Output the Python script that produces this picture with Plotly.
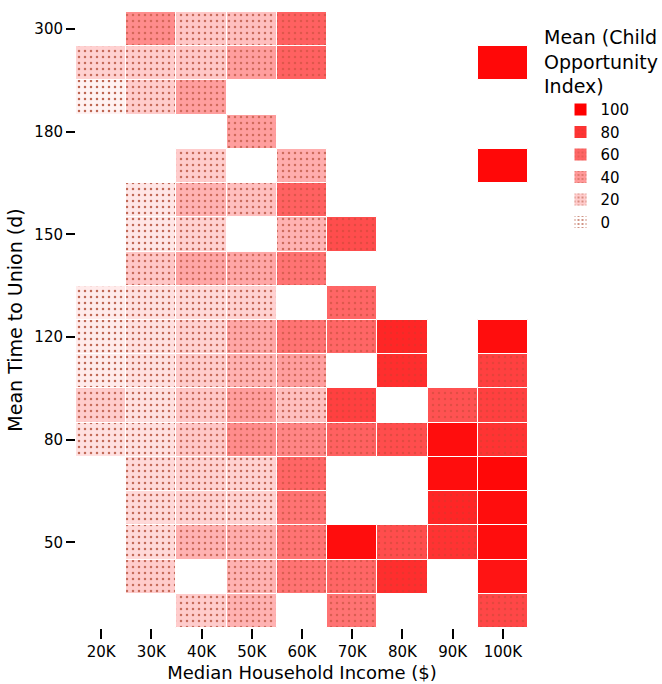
import plotly.graph_objects as go

# ---- data ----
income_labels = ["20K", "30K", "40K", "50K", "60K", "70K", "80K", "90K", "100K"]
# rows of the chart, top to bottom; only every third row carries a tick label
y_tick_rows = [0, 3, 6, 9, 12, 15]
y_tick_labels = ["300", "180", "150", "120", "80", "50"]
N = None
coi_mean = [
    [N, 45, 22, 25, 62, N, N, N, N],
    [18, 20, 22, 38, 62, N, N, N, 97],
    [5, 20, 38, N, N, N, N, N, N],
    [N, N, N, 38, N, N, N, N, N],
    [N, N, 20, N, 32, N, N, N, 97],
    [N, 10, 30, 25, 62, N, N, N, N],
    [N, 10, 18, N, 30, 70, N, N, N],
    [N, 22, 35, 35, 55, N, N, N, N],
    [8, 12, 15, 18, N, 60, N, N, N],
    [8, 12, 18, 35, 55, 60, 85, N, 95],
    [8, 12, 20, 30, 38, N, 82, N, 75],
    [20, 12, 22, 38, 25, 75, N, 68, 75],
    [12, 12, 22, 45, 48, 62, 70, 95, 80],
    [N, 15, 18, 18, 60, N, N, 95, 97],
    [N, 15, 18, 18, 55, N, N, 85, 95],
    [N, 15, 30, 32, 55, 95, 70, 80, 95],
    [N, 20, N, 30, 55, 60, 82, N, 92],
    [N, N, 20, 30, N, 55, N, N, 72],
]
legend_values = [100, 80, 60, 40, 20, 0]

n_rows = len(coi_mean)


def fill_rgb(v):
    g = 255 * (1 - v / 100)
    return (255, g, g)


def fill_color(v):
    r, g, b = fill_rgb(v)
    return f"rgb({round(r)},{round(g)},{round(b)})"


def dot_color(v):
    base = (175, 70, 45)
    k = 0.7 * (1 - v / 100) + 0.15
    f = fill_rgb(v)
    c = [f[i] * (1 - k) + base[i] * k for i in range(3)]
    return f"rgb({round(c[0])},{round(c[1])},{round(c[2])})"


def dot_shape(v):
    return "." if v < 88 else ""


def cell_marker(v, size, solidity, line_w):
    return dict(
        color=fill_color(v),
        line=dict(color="white", width=line_w),
        pattern=dict(shape=dot_shape(v), fgcolor=dot_color(v),
                     fillmode="overlay", fgopacity=1,
                     size=size, solidity=solidity),
    )


fig = go.Figure()
# one bar per heat-map cell (scalar colours so each pattern keeps its own dot colour)
for r, row in enumerate(coi_mean):
    for c, v in enumerate(row):
        if v is None:
            continue
        fig.add_trace(go.Bar(
            x=[income_labels[c]], y=[1], base=[n_rows - 1 - r - 0.5], width=1,
            marker=cell_marker(v, 6, 0.14, 1),
            showlegend=False, hoverinfo="skip",
        ))

for v in legend_values:
    fig.add_trace(go.Bar(
        x=[None], y=[None], name=str(v),
        marker=cell_marker(v, 5, 0.16, 0),
        showlegend=True,
    ))

font = "DejaVu Sans"
fig.update_layout(
    width=662, height=684,
    margin=dict(l=76, r=134, t=12, b=56),
    paper_bgcolor="white", plot_bgcolor="white",
    barmode="overlay", bargap=0,
    font=dict(family=font, size=15, color="black"),
    legend=dict(
        title=dict(text="Mean (Child<br>Opportunity<br>Index)", side="top center",
                   font=dict(size=19)),
        xref="container", yref="container",
        x=0.818, xanchor="left", y=0.972, yanchor="top",
        font=dict(size=15), traceorder="normal", itemwidth=30,
        indentation=19,
    ),
    xaxis=dict(
        categoryorder="array", categoryarray=income_labels,
        range=[-0.5, len(income_labels) - 0.5],
        showgrid=False, zeroline=False, showline=False, automargin=False,
        ticks="outside", ticklen=10, tickwidth=1.5, tickcolor="black",
        title=dict(text="Median Household Income ($)", font=dict(size=18), standoff=6),
    ),
    yaxis=dict(
        range=[-0.5, n_rows - 0.5],
        tickmode="array",
        tickvals=[n_rows - 1 - r for r in y_tick_rows],
        ticktext=y_tick_labels,
        showgrid=False, zeroline=False, showline=False, automargin=False,
        ticks="outside", ticklen=9, tickwidth=2, tickcolor="black",
        title=dict(text="Mean Time to Union (d)", font=dict(size=19), standoff=6),
    ),
)

fig.write_html("out.html")
